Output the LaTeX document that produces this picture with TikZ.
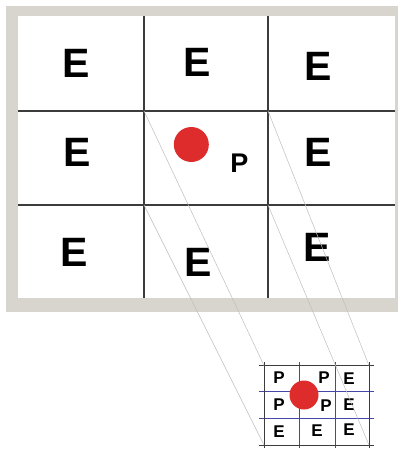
\documentclass[tikz,border=0pt]{standalone}
\usepackage{fontspec}
\setmainfont{Liberation Sans}
\definecolor{framegrey}{RGB}{216,213,206}
\definecolor{gridgrey}{RGB}{60,60,60}
\definecolor{dotred}{RGB}{222,44,44}
\definecolor{smallblue}{RGB}{70,70,170}
\definecolor{projgrey}{RGB}{190,190,190}
\begin{document}
\begin{tikzpicture}[x=1pt,y=-1pt,
  bigE/.style={inner sep=0pt,font=\fontsize{41}{41}\selectfont\bfseries},
  bigP/.style={inner sep=0pt,font=\fontsize{27}{27}\selectfont\bfseries},
  smallL/.style={inner sep=0pt,font=\fontsize{17}{17}\selectfont\bfseries},
  mainline/.style={draw=gridgrey,line width=1.1pt},
  outerline/.style={draw=gridgrey,line width=0.9pt},
  innerline/.style={draw=smallblue,line width=0.7pt},
  projline/.style={draw=projgrey,line width=0.5pt}]
\useasboundingbox (0,0) rectangle (398,449);
% frame
\fill[framegrey] (6,6) rectangle (398,312);
\fill[white] (18,16) rectangle (395,298);
% main grid
\draw[mainline] (144,16) -- (144,298);
\draw[mainline] (268,16) -- (268,298);
\draw[mainline] (18,111) -- (395,111);
\draw[mainline] (18,205) -- (395,205);
% main letters
\node[bigE] (e11) at (76,63) {E};
\node[bigE] (e12) at (197,62) {E};
\node[bigE] (e13) at (318.5,66.5) {E};
\node[bigE] (e21) at (77,152) {E};
\node[bigE] (e23) at (318.5,152) {E};
\node[bigE] (e31) at (74.5,252) {E};
\node[bigE] (e32) at (198.5,262) {E};
\node[bigE] (e33) at (317.5,247) {E};
\fill[dotred] (191.3,144.5) circle (17.5);
\node[bigP] (pmain) at (239.3,163.3) {P};
% small grid
\draw[innerline] (299,362) -- (299,448);
\draw[innerline] (335,362) -- (335,448);
\draw[innerline] (259,391.5) -- (374,391.5);
\draw[innerline] (259,418) -- (374,418);
\draw[outerline] (264,362) -- (264,448);
\draw[outerline] (369,362) -- (369,448);
\draw[outerline] (259,365.5) -- (374,365.5);
\draw[outerline] (259,445) -- (374,445);
\fill[dotred] (304,395) circle (14.5);
\node[smallL] (s11) at (279,378) {P};
\node[smallL] (s12) at (324,378) {P};
\node[smallL] (s13) at (349,379) {E};
\node[smallL] (s21) at (279,405) {P};
\node[smallL] (s22) at (326,406) {P};
\node[smallL] (s23) at (349,405) {E};
\node[smallL] (s31) at (279,432) {E};
\node[smallL] (s32) at (317,431) {E};
\node[smallL] (s33) at (349,430) {E};
% projection corners
\coordinate (ctl) at (144,111);
\coordinate (ctr) at (268,111);
\coordinate (cbl) at (144,205);
\coordinate (cbr) at (268,205);
\coordinate (stl) at (264,365.5);
\coordinate (str) at (369,365.5);
\coordinate (sbl) at (264,445);
\coordinate (sbr) at (369,445);
\draw[projline] (ctl) -- (stl);
\draw[projline] (ctr) -- (str);
\draw[projline] (cbl) -- (sbl);
\draw[projline] (cbr) -- (sbr);
\end{tikzpicture}
\end{document}
